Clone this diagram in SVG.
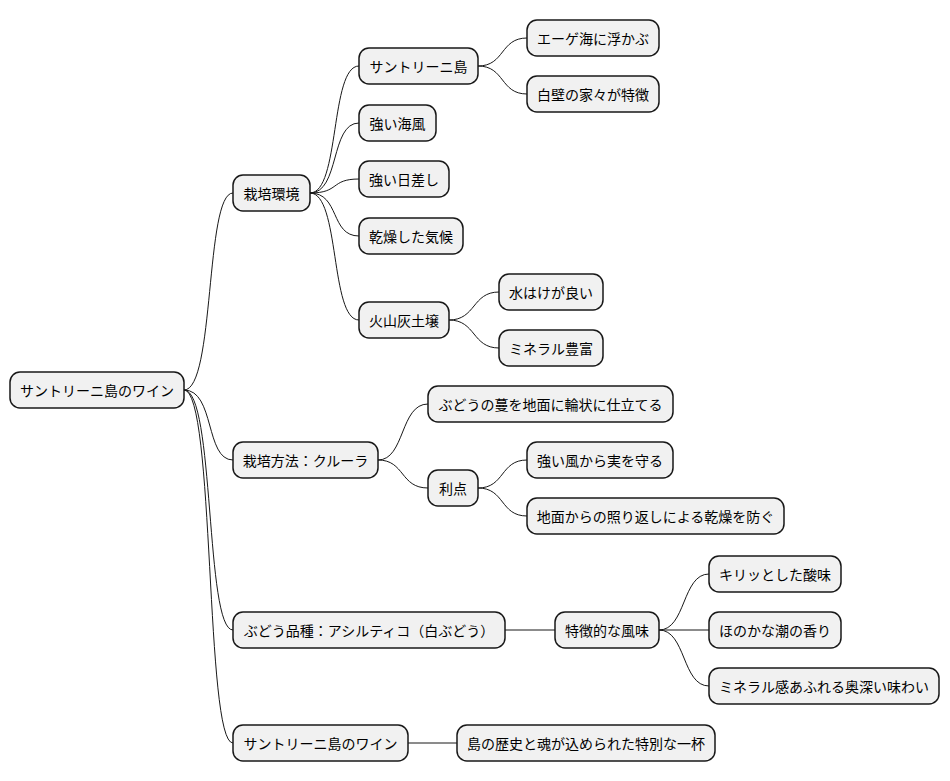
<svg xmlns="http://www.w3.org/2000/svg" width="950" height="781" viewBox="0 0 950 781">
<style>
rect{fill:#F1F1F1;stroke:#181818;stroke-width:1.5}
text{font-family:"Noto Sans CJK JP","Liberation Sans",sans-serif;font-size:14px;fill:#000;text-anchor:middle;dominant-baseline:central}
#c path{fill:none;stroke:#181818;stroke-width:1}
</style>
<rect width="950" height="781" fill="#fff" style="fill:#fff;stroke:none"/>
<g id="c">
<path d="M184,390 C215,390 205,193 233,193"/>
<path d="M184,390 C215,390 205,460 233,460"/>
<path d="M184,390 C215,390 205,630 233,630"/>
<path d="M184,390 C215,390 205,743 233,743"/>
<path d="M310,193 C340,193 330,66 359,66"/>
<path d="M310,193 C340,193 330,123 359,123"/>
<path d="M310,193 C340,193 330,179 359,179"/>
<path d="M310,193 C340,193 330,236 359,236"/>
<path d="M310,193 C340,193 330,320 359,320"/>
<path d="M478,66 C505,66 500,38 527,38"/>
<path d="M478,66 C505,66 500,94 527,94"/>
<path d="M449,320 C476,320 472,292 499,292"/>
<path d="M449,320 C476,320 472,348 499,348"/>
<path d="M378,460 C405,460 400,404 428,404"/>
<path d="M378,460 C405,460 400,488 428,488"/>
<path d="M478,488 C505,488 500,460 527,460"/>
<path d="M478,488 C505,488 500,516 527,516"/>
<path d="M505,630 L555,630"/>
<path d="M659,630 C686,630 682,574 709,574"/>
<path d="M659,630 L709,630"/>
<path d="M659,630 C686,630 682,686 709,686"/>
<path d="M408,743 L457,743"/>
</g>
<g id="n0"><rect x="10" y="372" width="174" height="36" rx="10"/><text x="97" y="390">サントリーニ島のワイン</text></g>
<g id="n1"><rect x="233" y="175" width="77" height="36" rx="10"/><text x="271.5" y="193">栽培環境</text></g>
<g id="n2"><rect x="359" y="48" width="119" height="36" rx="10"/><text x="418.5" y="66">サントリーニ島</text></g>
<g id="n3"><rect x="527" y="20" width="132" height="36" rx="10"/><text x="593" y="38">エーゲ海に浮かぶ</text></g>
<g id="n4"><rect x="527" y="76" width="132" height="36" rx="10"/><text x="593" y="94">白壁の家々が特徴</text></g>
<g id="n5"><rect x="359" y="105" width="77" height="36" rx="10"/><text x="397.5" y="123">強い海風</text></g>
<g id="n6"><rect x="359" y="161" width="90" height="36" rx="10"/><text x="404" y="179">強い日差し</text></g>
<g id="n7"><rect x="359" y="218" width="104" height="36" rx="10"/><text x="411" y="236">乾燥した気候</text></g>
<g id="n8"><rect x="359" y="302" width="90" height="36" rx="10"/><text x="404" y="320">火山灰土壌</text></g>
<g id="n9"><rect x="499" y="274" width="104" height="36" rx="10"/><text x="551" y="292">水はけが良い</text></g>
<g id="n10"><rect x="499" y="330" width="104" height="36" rx="10"/><text x="551" y="348">ミネラル豊富</text></g>
<g id="n11"><rect x="233" y="442" width="145" height="36" rx="10"/><text x="305.5" y="460">栽培方法：クルーラ</text></g>
<g id="n12"><rect x="428" y="386" width="245" height="36" rx="10"/><text x="550.5" y="404">ぶどうの蔓を地面に輪状に仕立てる</text></g>
<g id="n13"><rect x="428" y="470" width="50" height="36" rx="10"/><text x="453" y="488">利点</text></g>
<g id="n14"><rect x="527" y="442" width="146" height="36" rx="10"/><text x="600" y="460">強い風から実を守る</text></g>
<g id="n15"><rect x="527" y="498" width="257" height="36" rx="10"/><text x="655.5" y="516">地面からの照り返しによる乾燥を防ぐ</text></g>
<g id="n16"><rect x="233" y="612" width="272" height="36" rx="10"/><text x="369" y="630">ぶどう品種：アシルティコ（白ぶどう）</text></g>
<g id="n17"><rect x="555" y="612" width="104" height="36" rx="10"/><text x="607" y="630">特徴的な風味</text></g>
<g id="n18"><rect x="709" y="556" width="132" height="36" rx="10"/><text x="775" y="574">キリッとした酸味</text></g>
<g id="n19"><rect x="709" y="612" width="132" height="36" rx="10"/><text x="775" y="630">ほのかな潮の香り</text></g>
<g id="n20"><rect x="709" y="668" width="230" height="36" rx="10"/><text x="824" y="686">ミネラル感あふれる奥深い味わい</text></g>
<g id="n21"><rect x="233" y="725" width="175" height="36" rx="10"/><text x="320.5" y="743">サントリーニ島のワイン</text></g>
<g id="n22"><rect x="457" y="725" width="258" height="36" rx="10"/><text x="586" y="743">島の歴史と魂が込められた特別な一杯</text></g>
</svg>
